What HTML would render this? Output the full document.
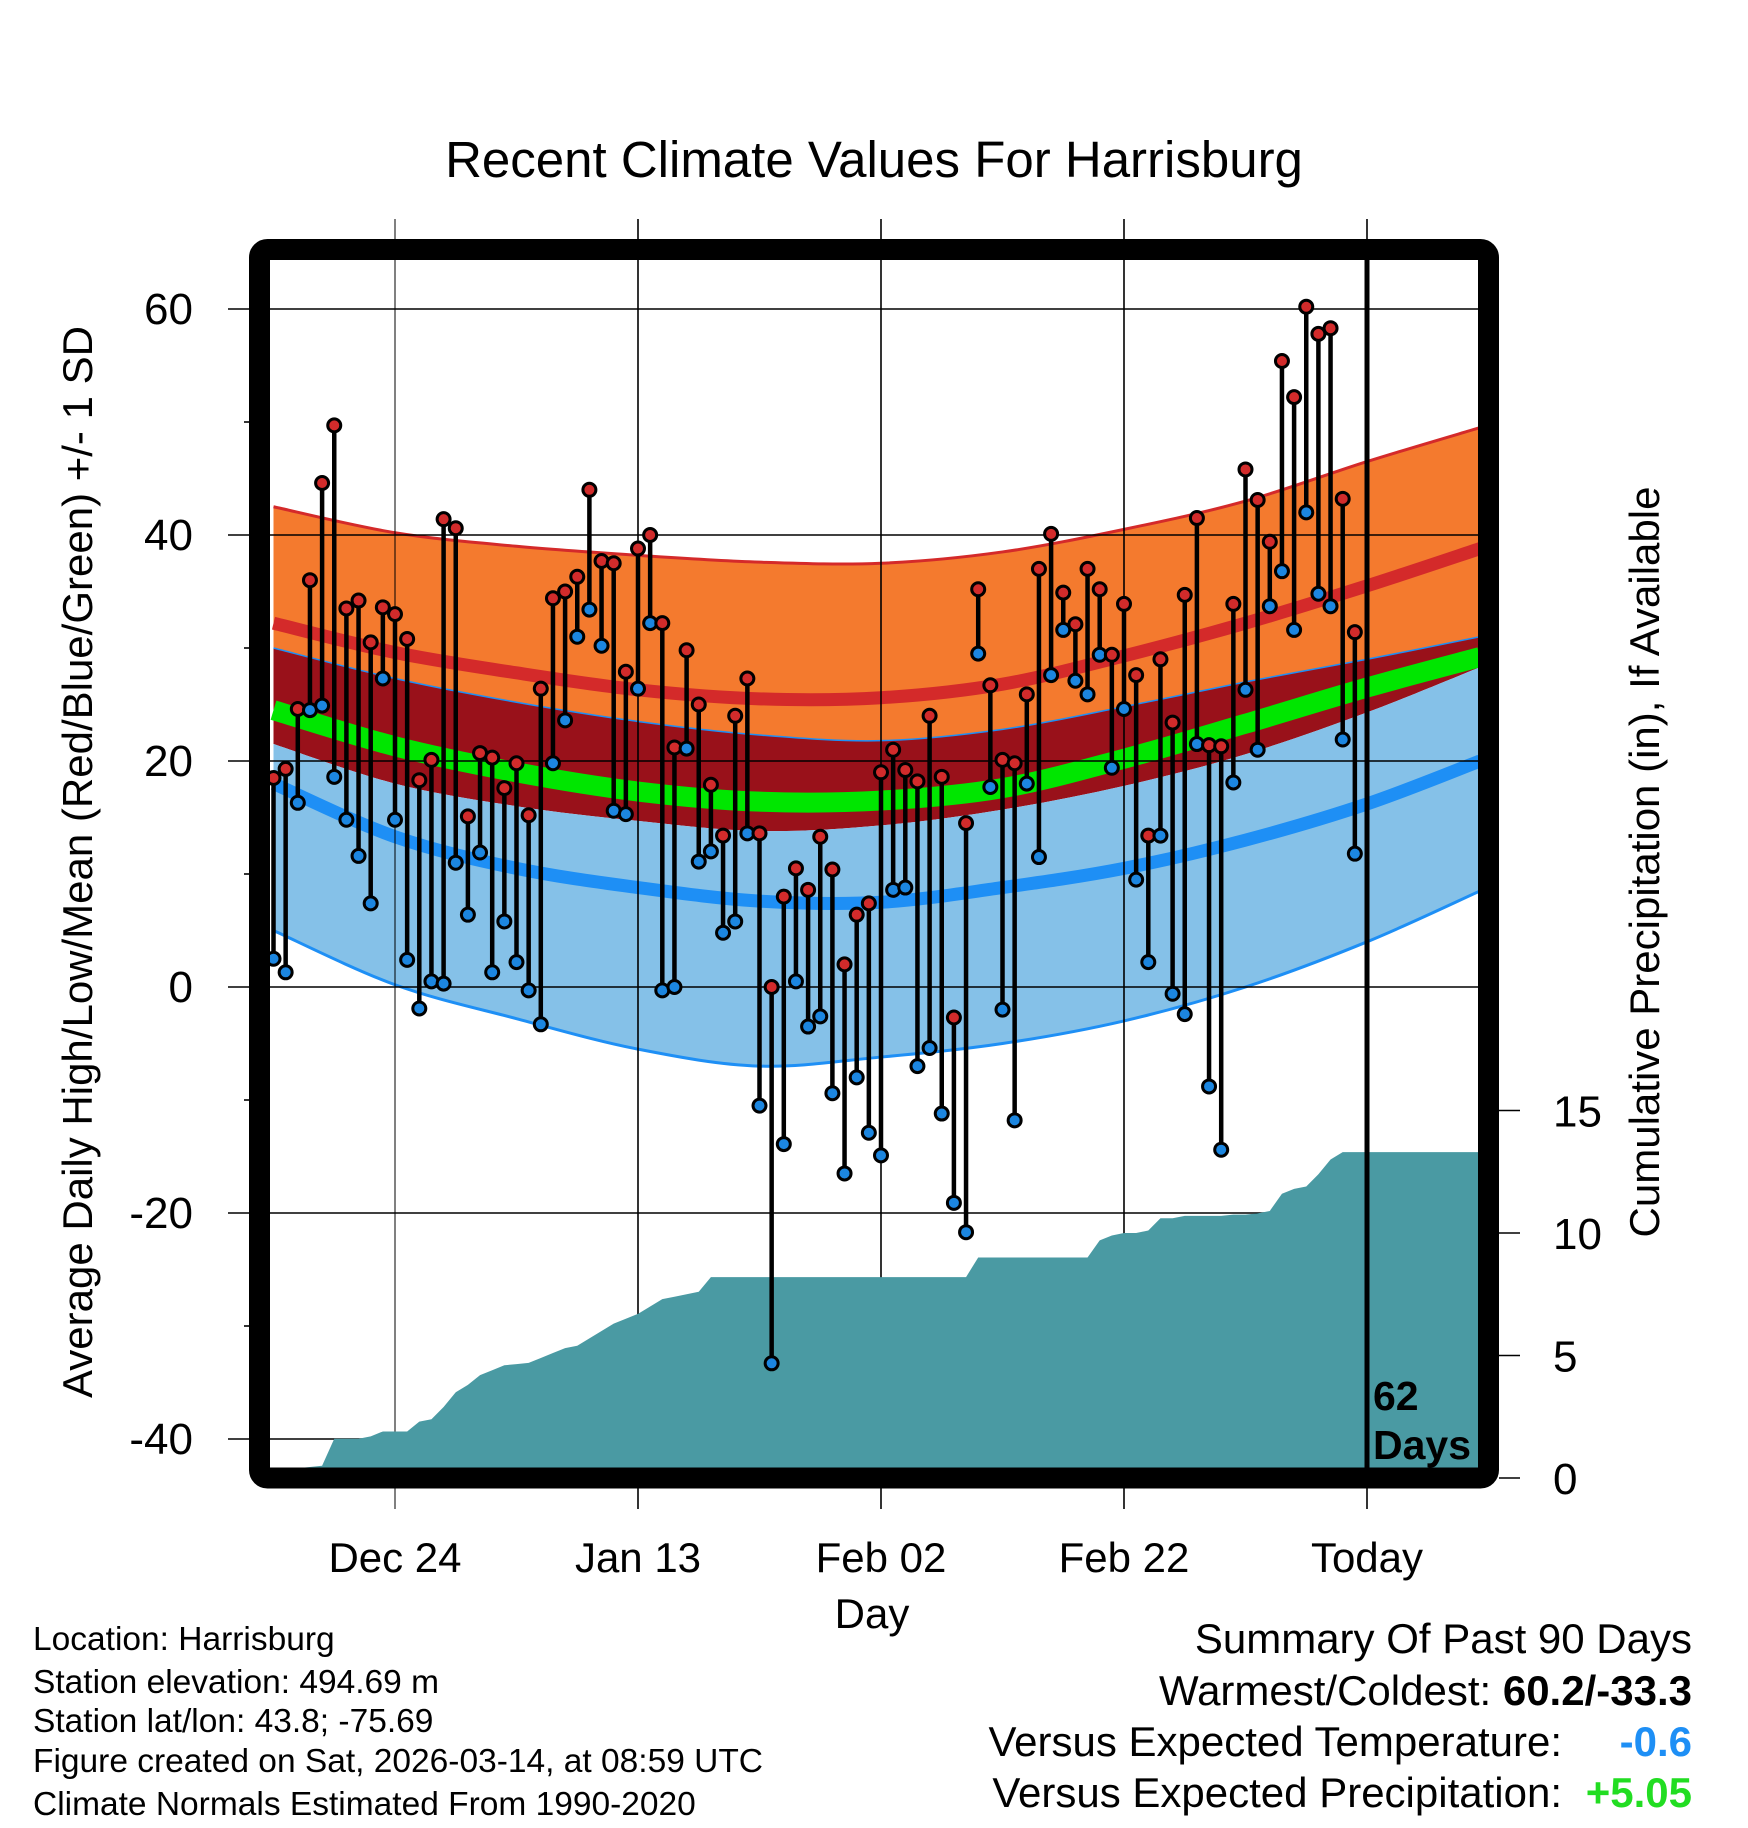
<!DOCTYPE html>
<html><head><meta charset="utf-8"><style>
html,body{margin:0;padding:0;background:#fff}
svg{display:block}
text{font-family:"Liberation Sans",Arial,sans-serif}
</style></head><body>
<svg id="chart" width="1748" height="1828" viewBox="0 0 1748 1828" xmlns="http://www.w3.org/2000/svg">
<defs><clipPath id="plotClip"><rect x="270" y="260" width="1208" height="1208"/></clipPath></defs>
<g id="bands" clip-path="url(#plotClip)"></g>
<g id="grid"></g>
<g id="precip" clip-path="url(#plotClip)"></g>
<g id="marks" clip-path="url(#plotClip)"></g>
<rect x="259.5" y="249.5" width="1229" height="1228.5" rx="8" fill="none" stroke="#000" stroke-width="21"/>
<g id="labels"></g>
<text x="874" y="177" font-size="51" text-anchor="middle">Recent Climate Values For Harrisburg</text>
<text transform="translate(92,862) rotate(-90)" font-size="42" text-anchor="middle">Average Daily High/Low/Mean (Red/Blue/Green) +/- 1 SD</text>
<text transform="translate(1659,862) rotate(-90)" font-size="42" text-anchor="middle">Cumulative Precipitation (in), If Available</text>
<text x="872" y="1628" font-size="42" text-anchor="middle">Day</text>
<text x="1373" y="1410" font-size="41" font-weight="bold">62</text>
<text x="1373" y="1459" font-size="41" font-weight="bold">Days</text>
<g font-size="33.5">
<text x="33" y="1650">Location: Harrisburg</text>
<text x="33" y="1693">Station elevation: 494.69 m</text>
<text x="33" y="1732">Station lat/lon: 43.8; -75.69</text>
<text x="33" y="1772">Figure created on Sat, 2026-03-14, at 08:59 UTC</text>
<text x="33" y="1815">Climate Normals Estimated From 1990-2020</text>
</g>
<g font-size="42">
<text x="1692" y="1653" text-anchor="end">Summary Of Past 90 Days</text>
<text x="1692" y="1705" text-anchor="end">Warmest/Coldest: <tspan font-weight="bold">60.2/-33.3</tspan></text>
<text x="1562" y="1756" text-anchor="end">Versus Expected Temperature:</text>
<text x="1692" y="1756" text-anchor="end" font-weight="bold" fill="#1e8ff5">-0.6</text>
<text x="1562" y="1807" text-anchor="end">Versus Expected Precipitation:</text>
<text x="1692" y="1807" text-anchor="end" font-weight="bold" fill="#22dd22">+5.05</text>
</g>
</svg>
<script>
const highs = [18.5,19.3,24.6,36,44.6,49.7,33.5,34.2,30.5,33.6,33,30.8,18.3,20.1,41.4,40.6,15.1,20.7,20.3,17.6,19.8,15.2,26.4,34.4,35,36.3,44,37.7,37.5,27.9,38.8,40,32.2,21.2,29.8,25,17.9,13.4,24,27.3,13.6,0,8,10.5,8.6,13.3,10.4,2,6.4,7.4,19,21,19.2,18.2,24,18.6,-2.7,14.5,35.2,26.7,20.1,19.8,25.9,37,40.1,34.9,32.1,37,35.2,29.4,33.9,27.6,13.4,29,23.4,34.7,41.5,21.4,21.3,33.9,45.8,43.1,39.4,55.4,52.2,60.2,57.8,58.3,43.2,31.4];
const lows = [2.5,1.3,16.3,24.5,24.9,18.6,14.8,11.6,7.4,27.3,14.8,2.4,-1.9,0.5,0.3,11,6.4,11.9,1.3,5.8,2.2,-0.3,-3.3,19.8,23.6,31,33.4,30.2,15.6,15.3,26.4,32.2,-0.3,0,21.1,11.1,12,4.8,5.8,13.6,-10.5,-33.3,-13.9,0.5,-3.5,-2.6,-9.4,-16.5,-8,-12.9,-14.9,8.6,8.8,-7,-5.4,-11.2,-19.1,-21.7,29.5,17.7,-2,-11.8,18,11.5,27.6,31.6,27.1,25.9,29.4,19.4,24.6,9.5,2.2,13.4,-0.6,-2.4,21.5,-8.8,-14.4,18.1,26.3,21,33.7,36.8,31.6,42,34.8,33.7,21.9,11.8];
const precipCum = [0.3,0.35,0.4,0.45,0.5,1.6,1.6,1.6,1.7,1.9,1.9,1.9,2.3,2.4,2.9,3.5,3.8,4.2,4.4,4.6,4.65,4.7,4.9,5.1,5.3,5.4,5.7,6.0,6.3,6.5,6.7,7.0,7.3,7.4,7.5,7.6,8.2,8.2,8.2,8.2,8.2,8.2,8.2,8.2,8.2,8.2,8.2,8.2,8.2,8.2,8.2,8.2,8.2,8.2,8.2,8.2,8.2,8.2,9.0,9.0,9.0,9.0,9.0,9.0,9.0,9.0,9.0,9.0,9.7,9.9,10.0,10.0,10.1,10.6,10.6,10.7,10.7,10.7,10.7,10.75,10.75,10.8,10.9,11.6,11.8,11.9,12.4,13.0,13.3,13.3];
const normDays = [-90,-80,-70,-60,-50,-40,-30,-20,-10,0,9.3];
const hiPlus  = [42.5,40.2,39,38.2,37.6,37.5,38.5,40.5,43,46.5,49.5];
const hiMean  = [32.2,29.6,27.8,26.3,25.5,25.6,26.8,29.3,32.2,35.5,38.8];
const hiMinus = [30,27.3,25.2,23.5,22.3,21.8,22.8,24.8,27,29,31];
const meanT   = [24.5,21.3,19,17.3,16.4,16.5,17.6,20.2,23.3,26.5,29.2];
const loPlus  = [21.5,18,16,14.7,13.8,14.3,15.7,17.8,20.6,24.3,28.3];
const loMean  = [18,13.3,10.5,8.8,7.6,7.5,8.8,10.5,13,16.2,20];
const loMinus = [5,0.2,-2.8,-5.5,-7,-6.2,-5,-3,0,4,8.5];
const yTicks = [60,40,20,0,-20,-40];
const pTicks = [0,5,10,15];
const xTickDays = [-80,-60,-40,-20,0];
const xTickLabels = ["Dec 24","Jan 13","Feb 02","Feb 22","Today"];

const NS="http://www.w3.org/2000/svg";
const xS = d => 1367 + d*12.15;
const yS = t => 987 - t*11.3;
const pS = p => 1478 - p*24.5;
function mk(tag, attrs, parent){const e=document.createElementNS(NS,tag);for(const k in attrs)e.setAttribute(k,attrs[k]);parent.appendChild(e);return e;}
function smooth(days, vals){
  const pts=days.map((d,i)=>[xS(d),yS(vals[i])]);
  let s=`M${pts[0][0]},${pts[0][1]}`;
  for(let i=0;i<pts.length-1;i++){
    const p0=pts[Math.max(0,i-1)],p1=pts[i],p2=pts[i+1],p3=pts[Math.min(pts.length-1,i+2)];
    s+=` C${p1[0]+(p2[0]-p0[0])/6},${p1[1]+(p2[1]-p0[1])/6} ${p2[0]-(p3[0]-p1[0])/6},${p2[1]-(p3[1]-p1[1])/6} ${p2[0]},${p2[1]}`;
  }
  return s;
}
function bandPath(top, bot){
  const a=smooth(normDays,top);
  const rd=[...normDays].reverse(), rb=[...bot].reverse();
  const b=smooth(rd,rb).replace(/^M/,' L');
  return a+b+' Z';
}
const bands=document.getElementById('bands');
let e;
e=mk('path',{d:bandPath(hiPlus,hiMinus),fill:'#f47a2e'},bands);


e=mk('path',{d:bandPath(hiMinus,loPlus),fill:'#99111a'},bands);


e=mk('path',{d:bandPath(loPlus,loMinus),fill:'#85c1e8'},bands);


e=mk('path',{d:smooth(normDays,hiPlus),fill:'none',stroke:'#d42a2a',"stroke-width":3},bands);


e=mk('path',{d:smooth(normDays,hiMinus),fill:'none',stroke:'#1e8ff5',"stroke-width":1.5},bands);


e=mk('path',{d:smooth(normDays,loMinus),fill:'none',stroke:'#1e8ff5',"stroke-width":3},bands);


e=mk('path',{d:smooth(normDays,hiMean),fill:'none',stroke:'#d42a2a',"stroke-width":13},bands);


e=mk('path',{d:smooth(normDays,meanT),fill:'none',stroke:'#00e600',"stroke-width":20},bands);


e=mk('path',{d:smooth(normDays,loMean),fill:'none',stroke:'#1e8ff5',"stroke-width":13},bands);



const grid=document.getElementById('grid');
const labels=document.getElementById('labels');
yTicks.forEach(t=>{
  e=mk('line',{x1:228,x2:1478,y1:yS(t),y2:yS(t),stroke:'#000','stroke-width':1.6},grid);
  
  
  e=mk('text',{x:193,y:yS(t)+15,'font-size':44,'text-anchor':'end'},labels);
  e.textContent=String(t);
  
  
});
for(let t=50;t>-40;t-=20){
  e=mk('line',{x1:244,x2:250,y1:yS(t),y2:yS(t),stroke:'#000','stroke-width':1.6},grid);
  
  
}
pTicks.forEach(p=>{
  e=mk('line',{x1:1499,x2:1520,y1:pS(p),y2:pS(p),stroke:'#000','stroke-width':1.6},grid);
  
  
  e=mk('text',{x:1553,y:pS(p)+16,'font-size':44},labels);
  e.textContent=String(p);
  
  
});
xTickDays.forEach((d,i)=>{
  e=mk('line',{x1:xS(d),x2:xS(d),y1:219,y2:1509,stroke:'#000','stroke-width':i==0?1:1.6},grid);
  
  
  e=mk('text',{x:xS(d),y:1572,'font-size':42,'text-anchor':'middle'},labels);
  e.textContent=xTickLabels[i];
  
  
});

const precip=document.getElementById('precip');
let pd=`M${xS(-90.5)},1470 L${xS(-90.5)},${pS(precipCum[0])}`;
precipCum.forEach((p,i)=>{pd+=` L${xS(i-90)},${pS(p)}`;});
pd+=` L${xS(10)},${pS(precipCum[precipCum.length-1])} L${xS(10)},1470 Z`;
e=mk('path',{d:pd,fill:'#4a9aa3'},precip);


e=mk('line',{x1:xS(0),x2:xS(0),y1:219,y2:1468,stroke:'#000','stroke-width':5},precip);



const marks=document.getElementById('marks');
highs.forEach((h,i)=>{
  const x=xS(i-90);
  e=mk('line',{x1:x,x2:x,y1:yS(h),y2:yS(lows[i]),stroke:'#000','stroke-width':4.5},marks);
  
  
});
highs.forEach((h,i)=>{
  const x=xS(i-90);
  e=mk('circle',{cx:x,cy:yS(lows[i]),r:6.5,fill:'#1c86e0',stroke:'#000','stroke-width':3},marks);
  
  
  e=mk('circle',{cx:x,cy:yS(h),r:6.5,fill:'#d22b2b',stroke:'#000','stroke-width':3},marks);
  
  
});
</script>
</body></html>
